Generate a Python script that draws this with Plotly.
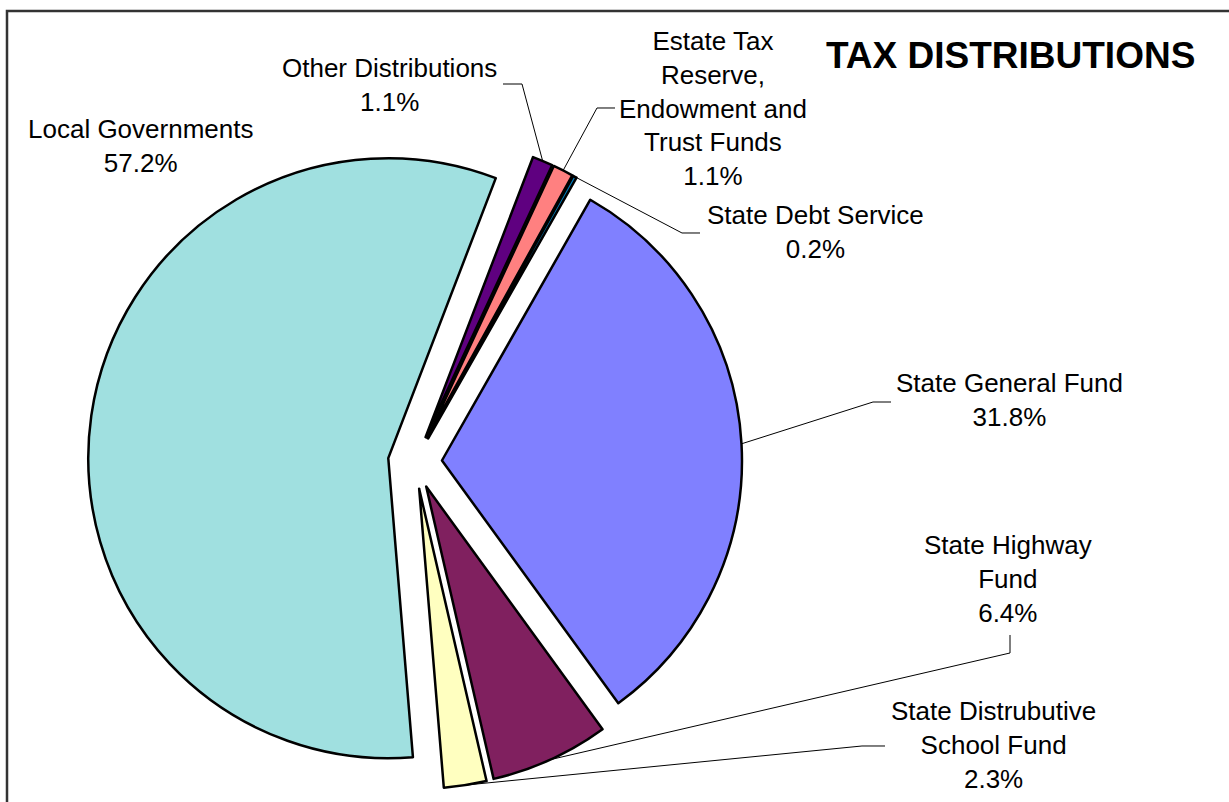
import math
import plotly.graph_objects as go

# ---- data ----
categories = ["Other Distributions",
              "Estate Tax Reserve, Endowment and Trust Funds",
              "State Debt Service",
              "State General Fund",
              "State Highway Fund",
              "State Distrubutive School Fund",
              "Local Governments"]
label_texts = ["Other Distributions<br>1.1%",
               "Estate Tax<br>Reserve,<br>Endowment and<br>Trust Funds<br>1.1%",
               "State Debt Service<br>0.2%",
               "State General Fund<br>31.8%",
               "State Highway<br>Fund<br>6.4%",
               "State Distrubutive<br>School Fund<br>2.3%",
               "Local Governments<br>57.2%"]
values = [1.1, 1.1, 0.2, 31.8, 6.4, 2.3, 57.2]
colors = ["#5F0080", "#FF8080", "#0080C0", "#8080FF", "#80205F", "#FFFFC0", "#A0E0E0"]

# ---- layout geometry (pixels) ----
W, H = 1229, 802
CX, CY = 415, 462          # pie centre
R = 300                    # pie radius
PULL = 0.09
ROTATION = 21

half = R * (1 + PULL)
dom_x = [(CX - half) / W, (CX + half) / W]
dom_y = [1 - (CY + half) / H, 1 - (CY - half) / H]

fig = go.Figure(go.Pie(
    labels=categories, values=values, sort=False, direction="clockwise",
    rotation=ROTATION, pull=[PULL] * len(values),
    marker=dict(colors=colors, line=dict(color="black", width=2.5)),
    textinfo="none", hoverinfo="label+percent", showlegend=False,
    domain=dict(x=dom_x, y=dom_y),
))

def px(x, y):
    return x / W, 1 - y / H

# label centres and leader-line label side points (pixels)
label_pos = [(389, 85), (713, 108), (815, 232), (1010, 400), (1008, 579), (993, 745), (140, 146)]
leader = [[(503, 84), (522, 84)],
          [(615, 108), (597, 108)],
          [(700, 233), (682, 233)],
          [(891, 402), (873, 402)],
          [(1010, 635), (1010, 653)],
          [(885, 746), (862, 746)],
          None]

total = sum(values)
ang = ROTATION
annotations = []
shapes = []
font = dict(family="Liberation Sans, Arial, sans-serif", size=26, color="black")
for i, v in enumerate(values):
    span = v / total * 360
    mid = math.radians(ang + span / 2)
    ang += span
    # point on the outer arc of the (pulled) slice
    ex = CX + R * (1 + PULL) * math.sin(mid)
    ey = CY - R * (1 + PULL) * math.cos(mid)
    lx, ly = px(*label_pos[i])
    annotations.append(dict(x=lx, y=ly, xref="paper", yref="paper", text=label_texts[i],
                            showarrow=False, xanchor="center", yanchor="middle",
                            align="center", font=font))
    if leader[i]:
        pts = leader[i] + [(ex, ey)]
        path = "M " + " L ".join(f"{px(a, b)[0]:.5f},{px(a, b)[1]:.5f}" for a, b in pts)
        shapes.append(dict(type="path", xref="paper", yref="paper", path=path,
                           line=dict(color="black", width=1)))

# title
tx, ty = px(1197, 55)
annotations.append(dict(x=tx, y=ty, xref="paper", yref="paper", text="<b>TAX DISTRIBUTIONS</b>",
                        showarrow=False, xanchor="right", yanchor="middle",
                        font=dict(family="Liberation Sans, Arial, sans-serif", size=37, color="black")))

# chart border
bx0, by0 = px(7, 11)
bx1, by1 = px(W + 20, H + 20)
shapes.append(dict(type="rect", xref="paper", yref="paper", x0=bx0, y0=by1, x1=bx1, y1=by0,
                   line=dict(color="#333333", width=2.5)))

fig.update_layout(width=W, height=H, margin=dict(l=0, r=0, t=0, b=0),
                  paper_bgcolor="white", plot_bgcolor="white",
                  annotations=annotations, shapes=shapes)

fig.write_html("out.html", config={"displayModeBar": False},
               post_script="document.body.style.margin='0';document.body.style.overflow='hidden';")
